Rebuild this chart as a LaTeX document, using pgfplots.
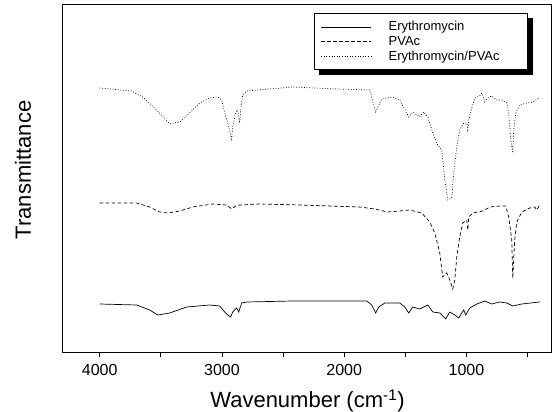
\documentclass[border=0pt]{standalone}
\usepackage{fontspec}
\setmainfont{Liberation Sans}
\usepackage{pgfplots}
\pgfplotsset{compat=1.18}
\usetikzlibrary{backgrounds}
\begin{document}
\begin{tikzpicture}
\begin{axis}[
  scale only axis, width=489pt, height=348pt,
  x dir=reverse, xmin=300, xmax=4300, ymin=59, ymax=407,
  xtick={4000,3000,2000,1000}, minor xtick={3500,2500,1500,500},
  ytick=\empty, xtick pos=bottom, tick align=outside,
  major tick length=4pt, minor tick length=4pt,
  every tick/.style={black, line width=0.8pt},
  axis line style={line width=1pt},
  /pgf/number format/assume math mode=true,
  /pgf/number format/set thousands separator={},
  tick label style={font=\fontsize{16}{19}\selectfont},
  xticklabel style={yshift=-4pt},
  xlabel={Wavenumber (cm\textsuperscript{-1})},
  ylabel={Transmittance},
  label style={font=\fontsize{22}{26}\selectfont},
  xlabel style={at={(axis description cs:0.5,-0.138)}, anchor=center},
  ylabel style={at={(axis description cs:-0.082,0.526)}, anchor=center},
  legend style={name=leg, at={(0.951,0.977)}, anchor=north east, draw=black, line width=0.8pt,
    fill=white, font=\fontsize{13}{15}\selectfont, row sep=0pt, inner ysep=6pt, inner xsep=7pt,
    /tikz/every odd column/.append style={column sep=15pt}},
  legend cell align=left,
  legend image code/.code={\draw[#1, line width=0.7pt] (0pt,0pt) -- (50pt,0pt);},
]
\addplot[black, line width=0.7pt] coordinates {
(4000,108) (3697,107) (3591,102) (3525,97) (3427,99) (3288,105) (3100,107) (3018,106) (2977,100) (2953,97) (2928,95) (2912,100) (2879,104) (2863,100) (2838,109) (2797,110) (2421,111) (1815,111) (1775,107) (1742,99) (1717,105) (1668,109) (1545,109) (1505,105) (1472,99) (1439,105) (1382,103) (1316,107) (1275,100) (1218,99) (1169,93) (1136,100) (1095,97) (1063,94) (1022,102) (1005,97) (973,104) (915,108) (850,111) (793,108) (727,110) (670,109) (621,106) (547,108) (400,110)
};
\addlegendentry{\makebox[130pt][l]{Erythromycin}}
\addplot[black, line width=0.7pt, dash pattern=on 3.5pt off 2.5pt] coordinates {
(4000,209) (3697,209) (3591,205) (3509,200) (3444,199) (3345,201) (3239,205) (3075,208) (2961,207) (2920,203) (2887,206) (2855,207) (2691,208) (2364,207) (1873,205) (1750,203) (1644,200) (1545,201) (1464,202) (1365,199) (1300,190) (1259,179) (1218,159) (1194,135) (1161,139) (1136,132) (1112,123) (1095,132) (1079,155) (1055,175) (1030,189) (997,192) (989,182) (981,195) (948,199) (866,201) (809,205) (727,206) (678,206) (654,195) (629,172) (621,134) (605,172) (588,190) (547,200) (482,204) (441,205) (425,202) (400,207)
};
\addlegendentry{PVAc}
\addplot[black, line width=0.7pt, dash pattern=on 0.8pt off 1.8pt] coordinates {
(4000,324) (3741,321) (3648,315) (3534,302) (3427,288) (3345,290) (3239,302) (3182,309) (3100,314) (3035,315) (3002,312) (2977,299) (2953,289) (2920,273) (2912,285) (2887,300) (2871,302) (2855,289) (2846,302) (2830,317) (2797,321) (2715,322) (2421,325) (2061,323) (1791,322) (1742,300) (1693,313) (1603,315) (1545,312) (1472,295) (1439,300) (1382,295) (1349,300) (1316,295) (1275,279) (1235,267) (1202,262) (1177,232) (1153,212) (1120,214) (1104,239) (1079,265) (1055,282) (1022,289) (997,289) (989,282) (981,292) (956,304) (932,314) (891,316) (875,319) (850,310) (825,314) (793,316) (752,312) (711,312) (670,309) (654,299) (637,272) (621,259) (613,282) (596,299) (564,307) (506,309) (457,310) (408,314)
};
\addlegendentry{Erythromycin/PVAc}
\end{axis}
\begin{pgfonlayer}{background}
\fill[black] ([xshift=5pt,yshift=-5pt]leg.south west) rectangle ([xshift=5pt,yshift=-5pt]leg.north east);
\end{pgfonlayer}
\pgfresetboundingbox
\path ([xshift=-63pt,yshift=-59pt]current axis.south west) rectangle ([xshift=2pt,yshift=5pt]current axis.north east);
\end{tikzpicture}
\end{document}
